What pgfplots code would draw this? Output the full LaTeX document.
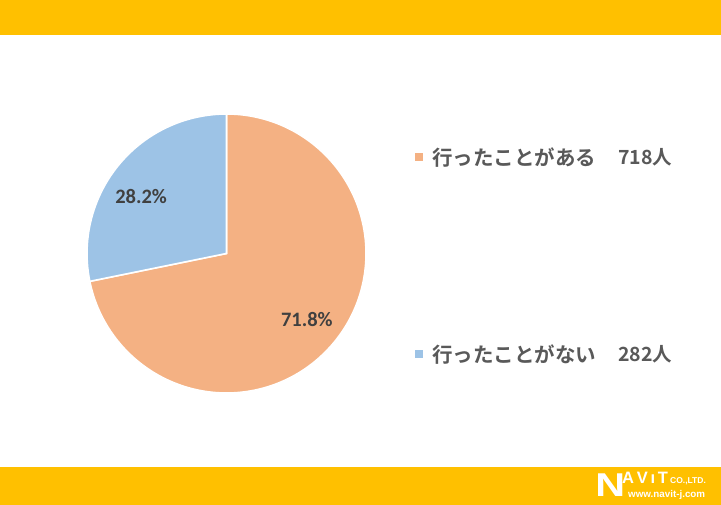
\documentclass[border=0pt]{standalone}
\usepackage{pgfplots}
\pgfplotsset{compat=1.18}
\usepackage{pgfplotstable}
\usepackage{fontspec}
\setmainfont{Carlito}
\setsansfont{Liberation Sans}
\newfontfamily\jp{Noto Sans CJK JP}[BoldFont={Noto Sans CJK JP Bold}]
\definecolor{band}{HTML}{FFC000}
\definecolor{sorange}{HTML}{F4B183}
\definecolor{sblue}{HTML}{9DC3E6}
\definecolor{lbl}{HTML}{404040}
\definecolor{leg}{HTML}{595959}
\pgfplotstableread{
label value
went 718
notwent 282
}\piedata
\begin{document}
\begin{tikzpicture}[x=1pt,y=1pt]
\pgfplotstablegetelem{0}{value}\of\piedata \let\va\pgfplotsretval
\pgfplotstablegetelem{1}{value}\of\piedata \let\vb\pgfplotsretval
\pgfmathsetmacro\fA{\va/(\va+\vb)}
\pgfmathsetmacro\angA{90-360*\fA}
\pgfmathsetmacro\pA{100*\fA}
\pgfmathsetmacro\pB{100-\pA}
\fill[white] (0,0) rectangle (721,505);
\fill[band] (0,470) rectangle (721,505);
\fill[band] (0,0) rectangle (721,38);
\begin{axis}[
  at={(87pt,112pt)}, anchor=south west,
  scale only axis, width=279pt, height=279pt,
  xmin=-1, xmax=1, ymin=-1, ymax=1,
  hide axis, clip=false]
  \fill[sorange, draw=white, line width=1.6pt] (axis cs:0,0) -- (axis cs:0,1) arc[start angle=90, end angle=\angA, radius=1] -- cycle;
  \fill[sblue, draw=white, line width=1.6pt] (axis cs:0,0) -- ({cos(\angA)},{sin(\angA)}) arc[start angle=\angA+360, end angle=90, radius=1] -- cycle;
  \node[font=\bfseries\fontsize{20.5}{20.5}\selectfont, text=lbl] at (axis cs:0.576,-0.474) {\pgfmathprintnumber[fixed,fixed zerofill,precision=1,assume math mode=true]{\pA}\%};
  \node[font=\bfseries\fontsize{20.5}{20.5}\selectfont, text=lbl] at (axis cs:-0.612,0.409) {\pgfmathprintnumber[fixed,fixed zerofill,precision=1,assume math mode=true]{\pB}\%};
\end{axis}
% legend
\fill[sorange] (415,343.5) rectangle (423,351.5);
\node[anchor=west, font=\jp\bfseries\fontsize{20.5}{20.5}\selectfont, text=leg, inner sep=0pt] at (432,347.5) {行ったことがある};
\node[anchor=west, font=\jp\bfseries\fontsize{19.5}{19.5}\selectfont, text=leg, inner sep=0pt] at (618,347.5) {718人};
\fill[sblue] (415,146.5) rectangle (423,154.5);
\node[anchor=west, font=\jp\bfseries\fontsize{20.5}{20.5}\selectfont, text=leg, inner sep=0pt] at (432,150.5) {行ったことがない};
\node[anchor=west, font=\jp\bfseries\fontsize{19.5}{19.5}\selectfont, text=leg, inner sep=0pt] at (618,150.5) {282人};
% logo
\node[anchor=base west, inner sep=0pt, text=white, font=\sffamily\bfseries\fontsize{33}{33}\selectfont, xscale=1.25] at (595,8) {N};
\node[anchor=base west, inner sep=0pt, text=white, font=\sffamily\bfseries\fontsize{16.5}{16.5}\selectfont] at (622,21.5) {A\,V\,\i\,T};
\node[anchor=base west, inner sep=0pt, text=white, font=\sffamily\bfseries\fontsize{8.5}{8.5}\selectfont] at (670,21) {CO.,LTD.};
\node[anchor=base west, inner sep=0pt, text=white, font=\sffamily\bfseries\fontsize{9.8}{9.8}\selectfont] at (628,7) {www.navit-j.com};
\end{tikzpicture}
\end{document}
